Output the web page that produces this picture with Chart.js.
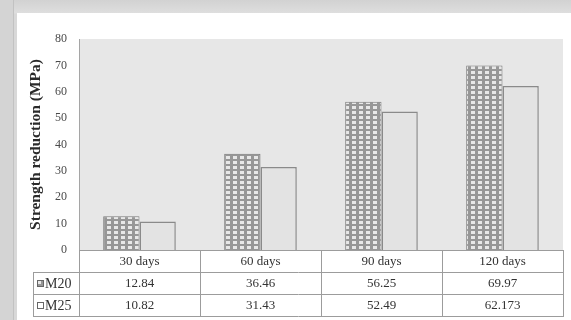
<!DOCTYPE html>
<html>
<head>
<meta charset="utf-8">
<script src="https://cdn.jsdelivr.net/npm/chart.js@4/dist/chart.umd.min.js"></script>
<style>
  html, body { margin: 0; padding: 0; width: 571px; height: 320px; overflow: hidden; }
  body { background: linear-gradient(#d2d2d2, #dedede 13px, #d8d8d8 14px); position: relative; }
  #edge { position: absolute; left: 0; top: 0; width: 13px; height: 320px; background: #d4d4d4; border-right: 1px solid #c2c2c2; }
  #frame { position: absolute; left: 17px; top: 13px; width: 554px; height: 307px; background: #fff; }
  #wrap { position: absolute; left: 0; top: 0; width: 571px; height: 320px; }
</style>
</head>
<body>
<div id="edge"></div>
<div id="frame"></div>
<div id="wrap"><canvas id="c" width="571" height="320"></canvas></div>
<script>
// Strength reduction of M20 / M25 concrete by exposure age
const categories = ['30 days', '60 days', '90 days', '120 days'];
const m20 = [12.84, 36.46, 56.25, 69.97];
const m25 = [10.82, 31.43, 52.49, 62.173];
const seriesNames = ['M20', 'M25'];
const yTicks = [0, 10, 20, 30, 40, 50, 60, 70, 80];

// dotted grid fill for the M20 bars
function makeDotPattern() {
  const t = document.createElement('canvas');
  t.width = 7; t.height = 5;
  const g = t.getContext('2d');
  g.fillStyle = '#979797';
  g.fillRect(0, 0, 7, 5);
  g.fillStyle = '#e8e8e8';
  g.fillRect(2, 1, 4, 3);
  return g.createPattern(t, 'repeat');
}
const dotFill = makeDotPattern();
const plainFill = '#e3e3e3';

const SERIF = '"Liberation Serif", "Times New Roman", serif';

const plotBackground = {
  id: 'plotBackground',
  beforeDraw(chart) {
    const { ctx, chartArea: a } = chart;
    ctx.save();
    ctx.fillStyle = '#e7e7e7';
    ctx.fillRect(a.left, a.top, a.right - a.left, a.bottom - a.top);
    ctx.restore();
  }
};

// data table under the plot: category row + one row per series
const dataTable = {
  id: 'dataTable',
  afterDraw(chart) {
    const { ctx, chartArea: a } = chart;
    const xs = chart.scales.x;
    const n = categories.length;
    const cw = (a.right - a.left) / n;
    const rowH = 22;
    const top = Math.round(a.bottom);
    const keyLeft = a.left - 46;
    const L = Math.round(a.left), R = Math.round(a.right);
    ctx.save();
    ctx.strokeStyle = '#9c9c9c';
    ctx.lineWidth = 1;
    const hline = (y, x0, x1) => { ctx.beginPath(); ctx.moveTo(x0, y + 0.5); ctx.lineTo(x1, y + 0.5); ctx.stroke(); };
    const vline = (x, y0, y1) => { ctx.beginPath(); ctx.moveTo(x + 0.5, y0); ctx.lineTo(x + 0.5, y1); ctx.stroke(); };
    hline(top, L, R);
    for (let r = 1; r <= 3; r++) hline(top + r * rowH, keyLeft, R + 1);
    vline(keyLeft, top + rowH, top + 3 * rowH);
    vline(L, top, top + 3 * rowH);
    for (let i = 1; i < n; i++) vline(Math.round(a.left + i * cw), top, top + 3 * rowH);
    vline(R, top, top + 3 * rowH);

    ctx.fillStyle = '#333';
    ctx.font = '13px ' + SERIF;
    ctx.textAlign = 'center';
    ctx.textBaseline = 'middle';
    const rows = [categories, m20.map(String), m25.map(String)];
    rows.forEach((row, r) => {
      row.forEach((txt, i) => {
        ctx.fillText(txt, xs.getPixelForValue(i), top + r * rowH + rowH / 2 + 1);
      });
    });

    // legend keys in the left column
    const fills = [dotFill, '#ffffff'];
    seriesNames.forEach((name, k) => {
      const cy = top + (k + 1) * rowH + rowH / 2;
      ctx.fillStyle = fills[k];
      ctx.fillRect(keyLeft + 4, cy - 3, 7, 7);
      ctx.strokeStyle = '#666';
      ctx.strokeRect(keyLeft + 4.5, cy - 2.5, 6, 6);
      ctx.fillStyle = '#333';
      ctx.textAlign = 'left';
      ctx.font = '14px ' + SERIF;
      ctx.fillText(name, keyLeft + 12, cy + 1);
    });
    ctx.restore();
  }
};

new Chart(document.getElementById('c'), {
  type: 'bar',
  data: {
    labels: categories,
    datasets: [
      { label: seriesNames[0], data: m20, backgroundColor: dotFill, borderColor: '#7a7a7a', borderWidth: 1 },
      { label: seriesNames[1], data: m25, backgroundColor: plainFill, borderColor: '#8a8a8a', borderWidth: 1.5 }
    ]
  },
  options: {
    responsive: false,
    animation: false,
    devicePixelRatio: 1,
    categoryPercentage: 0.6,
    barPercentage: 1.0,
    layout: { padding: { left: 24, right: 8, top: 39, bottom: 70 } },
    plugins: { legend: { display: false }, tooltip: { enabled: false } },
    scales: {
      x: { display: false },
      y: {
        min: 0, max: 80,
        afterFit(s) { s.width = 55; },
        afterBuildTicks(s) { s.ticks = yTicks.map(v => ({ value: v })); },
        grid: { display: false, drawTicks: false },
        border: { display: true, color: '#a5a5a5', width: 1 },
        ticks: { padding: 12, color: '#4a4a4a', font: { family: SERIF, size: 12 } },
        title: {
          display: true,
          text: 'Strength reduction (MPa)',
          color: '#2a2a2a',
          padding: { top: 3, bottom: 0 },
          font: { family: SERIF, size: 15.5, weight: 'bold' }
        }
      }
    }
  },
  plugins: [plotBackground, dataTable]
});
</script>
</body>
</html>
